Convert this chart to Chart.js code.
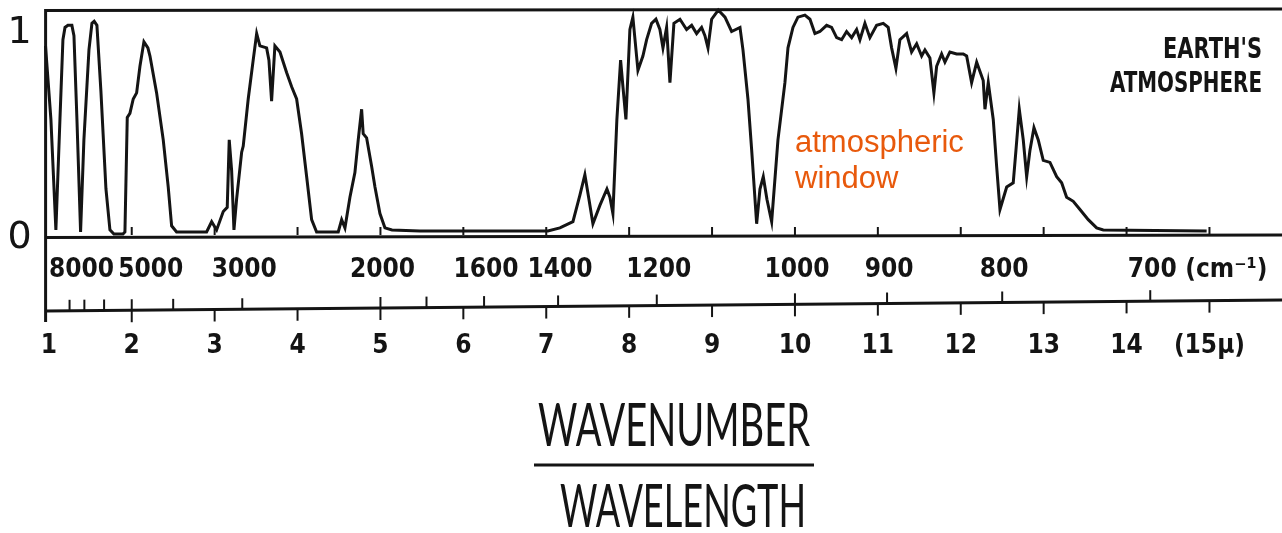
<!DOCTYPE html>
<html>
<head>
<meta charset="utf-8">
<script src="https://cdn.jsdelivr.net/npm/chart.js@4.4.1/dist/chart.umd.min.js"></script>
<style>
  html, body { margin: 0; padding: 0; background: #ffffff; }
  #wrap { width: 1282px; height: 533px; position: relative; }
</style>
</head>
<body>
<div id="wrap"><canvas id="c" width="1282" height="533"></canvas></div>
<script>
// ---------------- DATA ----------------
// wavelength in micrometres
const wavelength = [
  0.96, 1.025, 1.085, 1.134, 1.17, 1.195, 1.23, 1.278, 1.303, 1.339,
  1.383, 1.423, 1.484, 1.52, 1.547, 1.58, 1.628, 1.689, 1.737, 1.785,
  1.894, 1.918, 1.946, 1.978, 2.018, 2.059, 2.099, 2.147, 2.195, 2.22,
  2.30, 2.38, 2.44, 2.481, 2.541, 2.903, 2.964, 3.024, 3.104, 3.152,
  3.176, 3.205, 3.233, 3.265, 3.326, 3.345, 3.405, 3.465, 3.507, 3.546,
  3.627, 3.655, 3.687, 3.727, 3.788, 3.868, 3.929, 3.989, 4.049, 4.11,
  4.17, 4.23, 4.491, 4.532, 4.572, 4.632, 4.692, 4.732, 4.773, 4.792,
  4.833, 4.894, 4.934, 4.994, 5.054, 5.139, 5.476, 7.02, 7.165, 7.322,
  7.406, 7.466, 7.515, 7.563, 7.647, 7.732, 7.768, 7.804, 7.852, 7.897,
  7.925, 7.961, 8.009, 8.045, 8.106, 8.166, 8.211, 8.271, 8.323, 8.371,
  8.408, 8.452, 8.492, 8.54, 8.613, 8.693, 8.754, 8.814, 8.874, 8.914,
  8.951, 8.995, 9.075, 9.156, 9.236, 9.337, 9.373, 9.433, 9.478, 9.538,
  9.578, 9.618, 9.662, 9.719, 9.795, 9.879, 9.916, 9.976, 10.036, 10.12,
  10.181, 10.241, 10.301, 10.382, 10.442, 10.503, 10.563, 10.623, 10.684, 10.744,
  10.784, 10.844, 10.904, 10.985, 11.065, 11.125, 11.166, 11.218, 11.266, 11.347,
  11.407, 11.468, 11.528, 11.568, 11.628, 11.676, 11.709, 11.769, 11.809, 11.869,
  11.95, 12.03, 12.071, 12.131, 12.192, 12.271, 12.292, 12.332, 12.392, 12.433,
  12.473, 12.554, 12.633, 12.666, 12.706, 12.754, 12.795, 12.835, 12.883, 12.935,
  12.995, 13.076, 13.157, 13.217, 13.277, 13.357, 13.438, 13.538, 13.639, 13.719,
  14.966
];
// transmission of the Earth's atmosphere (0..1)
const transmission = [
  0.92, 0.56, 0.02, 0.56, 0.95, 1.01, 1.02, 1.02, 0.97, 0.56,
  0.01, 0.46, 0.90, 1.03, 1.04, 1.02, 0.70, 0.22, 0.02, 0.00,
  0.00, 0.01, 0.57, 0.59, 0.66, 0.69, 0.82, 0.94, 0.91, 0.87,
  0.69, 0.46, 0.23, 0.04, 0.01, 0.01, 0.06, 0.02, 0.11, 0.13,
  0.46, 0.31, 0.02, 0.17, 0.40, 0.43, 0.66, 0.85, 0.98, 0.92,
  0.91, 0.85, 0.65, 0.92, 0.89, 0.79, 0.72, 0.66, 0.49, 0.28,
  0.07, 0.01, 0.01, 0.07, 0.03, 0.18, 0.30, 0.46, 0.61, 0.49,
  0.47, 0.33, 0.23, 0.10, 0.03, 0.02, 0.015, 0.015, 0.03, 0.06,
  0.19, 0.29, 0.17, 0.05, 0.14, 0.22, 0.18, 0.10, 0.56, 0.85,
  0.72, 0.56, 1.00, 1.06, 0.80, 0.87, 0.95, 1.03, 1.05, 1.00,
  0.91, 1.01, 0.74, 1.03, 1.05, 1.00, 1.02, 0.98, 1.01, 0.97,
  0.91, 1.05, 1.095, 1.06, 0.99, 1.01, 0.90, 0.66, 0.41, 0.05,
  0.22, 0.28, 0.17, 0.06, 0.46, 0.74, 0.91, 1.01, 1.06, 1.07,
  1.05, 0.98, 0.99, 1.02, 1.01, 0.96, 0.95, 0.99, 0.96, 1.00,
  0.95, 1.03, 0.96, 1.02, 1.03, 1.01, 0.91, 0.81, 0.95, 0.98,
  0.89, 0.93, 0.87, 0.90, 0.86, 0.69, 0.82, 0.88, 0.84, 0.89,
  0.88, 0.88, 0.87, 0.74, 0.84, 0.75, 0.61, 0.74, 0.56, 0.33,
  0.12, 0.23, 0.25, 0.41, 0.61, 0.46, 0.28, 0.41, 0.52, 0.46,
  0.36, 0.35, 0.28, 0.25, 0.18, 0.16, 0.12, 0.07, 0.03, 0.02,
  0.015
];
const wavelengthTicks = [1, 2, 3, 4, 5, 6, 7, 8, 9, 10, 11, 12, 13, 14, 15];
const wavelengthTickLabels = ['1', '2', '3', '4', '5', '6', '7', '8', '9', '10', '11', '12', '13', '14', '(15\u00b5)'];
const wavenumberTicks = [8000, 7000, 6000, 5000, 4000, 3000, 2000, 1800, 1600, 1400, 1200, 1000, 900, 800, 700];
const wavenumberLabels = [8000, 5000, 3000, 2000, 1600, 1400, 1200, 1000, 900, 800, 700];
const wavenumberUnit = '(cm\u207b\u00b9)';
const transmissionTicks = [0, 1];
const transmissionTickLabels = ['0', '1'];
const titleTop = 'WAVENUMBER';
const titleBottom = 'WAVELENGTH';
const legendLines = ["EARTH'S", 'ATMOSPHERE'];
const noteLines = ['atmospheric', 'window'];

// ---------------- STYLE ----------------
const INK = '#141414';
const ORANGE = '#E8590C';
const CLEAR = 'rgba(0,0,0,0)';
const LABEL_FAMILY = "'DejaVu Sans Condensed', 'Liberation Sans Narrow', 'DejaVu Sans', sans-serif";
const labelNudge = { 8000: 12, 5000: 19 };

function fitText(ctx, text, x, y, width, font, align) {
  ctx.save();
  ctx.font = font;
  const w = ctx.measureText(text).width;
  const sx = width / w;
  ctx.translate(x, y);
  ctx.scale(sx, 1);
  ctx.textAlign = align;
  ctx.textBaseline = 'alphabetic';
  ctx.fillText(text, 0, 0);
  ctx.restore();
}

const decorPlugin = {
  id: 'decor',
  afterDraw(chart) {
    const ctx = chart.ctx;
    const ax = chart.scales.x;
    const ay = chart.scales.y;
    const ca = chart.chartArea;
    const W = chart.width;
    ctx.save();
    ctx.strokeStyle = INK;
    ctx.fillStyle = INK;
    ctx.lineCap = 'butt';

    const seg = (x1, y1, x2, y2, lw) => {
      ctx.lineWidth = lw;
      ctx.beginPath(); ctx.moveTo(x1, y1); ctx.lineTo(x2, y2); ctx.stroke();
    };

    // frame
    const yBase = ay.getPixelForValue(0) + 1;
    seg(ca.left, ca.top + 1.5, W, ca.top, 3);          // top line
    seg(ca.left, ca.top, ca.left, 322, 3);             // left line
    seg(ca.left, yBase + 2.5, W, yBase, 3);            // zero line
    // inner micron ticks
    wavelengthTicks.forEach(v => {
      if (v <= 1) return;
      const px = ax.getPixelForValue(v);
      seg(px, yBase, px, yBase - 8, 2);
    });

    // middle scale line between wavenumber and wavelength rows
    const yMid = (px) => 311 - (px - ca.left) * (11 / (W - ca.left));
    seg(ca.left, yMid(ca.left), W, yMid(W), 3);
    wavenumberTicks.forEach(wn => {
      const px = ax.getPixelForValue(1e4 / wn);
      seg(px, yMid(px), px, yMid(px) - 11, 2);
    });
    wavelengthTicks.forEach(v => {
      if (v <= 1) return;
      const px = ax.getPixelForValue(v);
      seg(px, yMid(px), px, yMid(px) + 12, 2);
    });

    // wavenumber labels
    ctx.font = 'bold 26px ' + LABEL_FAMILY;
    ctx.textAlign = 'center';
    ctx.textBaseline = 'middle';
    wavenumberLabels.forEach(wn => {
      const px = ax.getPixelForValue(1e4 / wn) + (labelNudge[wn] || 2);
      ctx.fillText(String(wn), px, 270);
    });
    ctx.textAlign = 'left';
    ctx.fillText(wavenumberUnit, ax.getPixelForValue(1e4 / 700) + 35, 270);

    // axis title (fraction)
    fitText(ctx, titleTop, 538, 446, 272, '60px Lato, Roboto, sans-serif', 'left');
    seg(534, 465, 814, 465, 3);
    fitText(ctx, titleBottom, 560, 527, 246, '60px Lato, Roboto, sans-serif', 'left');

    // legend label
    fitText(ctx, legendLines[0], 1262, 58, 99, 'bold 28px ' + LABEL_FAMILY, 'right');
    fitText(ctx, legendLines[1], 1262, 92, 152, 'bold 28px ' + LABEL_FAMILY, 'right');

    // orange annotation
    ctx.fillStyle = ORANGE;
    ctx.font = "31px 'Liberation Sans', Arial, sans-serif";
    ctx.textAlign = 'left';
    ctx.textBaseline = 'alphabetic';
    ctx.fillText(noteLines[0], 795, 152);
    ctx.fillText(noteLines[1], 795, 188);
    ctx.restore();
  }
};

new Chart(document.getElementById('c'), {
  type: 'line',
  data: {
    datasets: [{
      label: "Earth's atmosphere transmission",
      data: wavelength.map((w, i) => ({ x: w, y: transmission[i] })),
      borderColor: INK,
      borderWidth: 3,
      pointRadius: 0,
      tension: 0,
      fill: false,
      clip: false
    }]
  },
  options: {
    responsive: false,
    animation: false,
    devicePixelRatio: 1,
    layout: { padding: { top: 9, right: 0, bottom: 0, left: 0 } },
    plugins: { legend: { display: false }, tooltip: { enabled: false }, title: { display: false } },
    scales: {
      x: {
        type: 'linear',
        position: 'bottom',
        min: 0.961,
        max: 15.875,
        afterFit: s => { s.height = 299; },
        afterBuildTicks: s => { s.ticks = wavelengthTicks.map(v => ({ value: v })); },
        grid: { display: true, drawOnChartArea: false, drawTicks: true, tickLength: 92, color: CLEAR, tickColor: CLEAR },
        border: { display: false },
        ticks: {
          autoSkip: false, maxRotation: 0, minRotation: 0,
          padding: 5,
          color: INK,
          font: { family: LABEL_FAMILY, size: 26, weight: 'bold' },
          callback: (v, i) => wavelengthTickLabels[i]
        }
      },
      y: {
        position: 'left',
        min: 0,
        max: 1.1,
        afterFit: s => { s.width = 45.6; },
        afterBuildTicks: s => { s.ticks = transmissionTicks.map(v => ({ value: v })); },
        grid: { display: true, drawOnChartArea: false, drawTicks: true, tickLength: 14, color: CLEAR, tickColor: CLEAR },
        border: { display: false },
        ticks: {
          padding: 0,
          labelOffset: 4,
          crossAlign: 'center',
          color: INK,
          font: { family: "'DejaVu Sans', sans-serif", size: 38, lineHeight: 0.4 },
          callback: (v, i) => transmissionTickLabels[i]
        }
      }
    }
  },
  plugins: [decorPlugin]
});
</script>
</body>
</html>
